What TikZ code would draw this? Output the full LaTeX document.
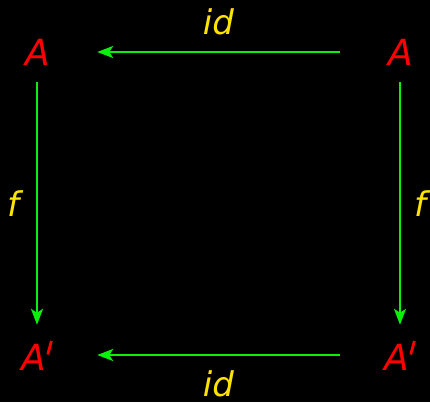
\documentclass[tikz,border=0pt]{standalone}
\usepackage{fontspec}
\setmainfont{DejaVu Sans}
\usetikzlibrary{arrows.meta}
\definecolor{objred}{RGB}{255,0,0}
\definecolor{arrgreen}{RGB}{10,240,10}
\definecolor{labyellow}{RGB}{255,228,0}
\newcommand{\mypr}{\kern0.5pt\smash{\raisebox{16pt}{\rotatebox{-15}{\rule{2.8pt}{14pt}}}}}
\begin{document}
\begin{tikzpicture}[x=1pt,y=1pt,
  obj/.style={text=objred,font=\fontsize{36}{40}\selectfont\itshape,inner sep=0pt,minimum width=120pt,minimum height=60pt},
  lab/.style={text=labyellow,font=\fontsize{34}{40}\selectfont\itshape,inner sep=0pt},
  arr/.style={draw=arrgreen,line width=2.6pt,-{Stealth[length=16pt,width=12pt,inset=4pt]}}]
\fill[black] (0,0) rectangle (430,402);
\useasboundingbox (0,0) rectangle (430,402);
\node[obj] (A1) at (37,350) {\kern2pt A};
\node[obj] (A2) at (400,350) {\kern2pt A};
\node[obj,minimum height=64pt] (B1) at (37,45) {A\mypr};
\node[obj,minimum height=64pt] (B2) at (400,45) {A\mypr};
\draw[arr] (A2) -- (A1) node[lab,midway,yshift=30pt] (id1) {id};
\draw[arr] (B2.west|-0,47) -- (B1.east|-0,47) node[lab,midway,yshift=-29pt] (id2) {id};
\draw[arr] (A1) -- (B1) node[lab,midway,xshift=-24pt] (f1) {f};
\draw[arr] (A2) -- (B2) node[lab,midway,xshift=20pt] (f2) {f};
\end{tikzpicture}
\end{document}
